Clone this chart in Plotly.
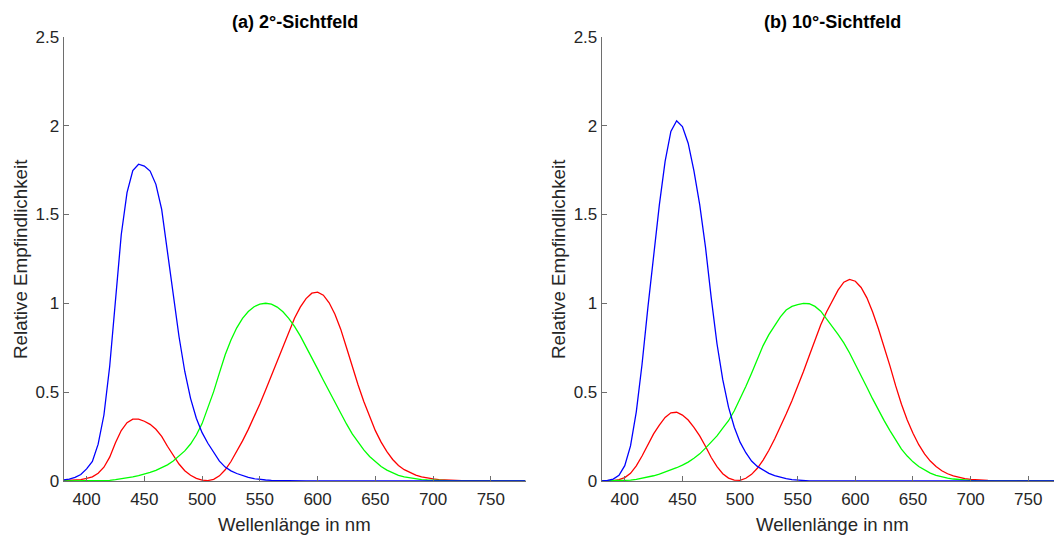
import plotly.graph_objects as go

W, H = 1054, 536

wl = list(range(380, 785, 5))

x2 = [0.001368, 0.002236, 0.004243, 0.007650, 0.014310, 0.023190, 0.043510, 0.077630, 0.134380, 0.214770,
      0.283900, 0.328500, 0.348280, 0.348060, 0.336200, 0.318700, 0.290800, 0.251100, 0.195360, 0.142100,
      0.095640, 0.057950, 0.032010, 0.014700, 0.004900, 0.002400, 0.009300, 0.029100, 0.063270, 0.109600,
      0.165500, 0.225750, 0.290400, 0.359700, 0.433450, 0.512050, 0.594500, 0.678400, 0.762100, 0.842500,
      0.916300, 0.978600, 1.026300, 1.056700, 1.062200, 1.045600, 1.002600, 0.938400, 0.854450, 0.751400,
      0.642400, 0.541900, 0.447900, 0.360800, 0.283500, 0.218700, 0.164900, 0.121200, 0.087400, 0.063600,
      0.046770, 0.032900, 0.022700, 0.015840, 0.011359, 0.008111, 0.005790, 0.004109, 0.002899, 0.002049,
      0.001440, 0.001000, 0.000690, 0.000476, 0.000332, 0.000235, 0.000166, 0.000117, 0.000083, 0.000059,
      0.000042]
y2 = [0.000039, 0.000064, 0.000120, 0.000217, 0.000396, 0.000640, 0.001210, 0.002180, 0.004000, 0.007300,
      0.011600, 0.016840, 0.023000, 0.029800, 0.038000, 0.048000, 0.060000, 0.073900, 0.090980, 0.112600,
      0.139020, 0.169300, 0.208020, 0.258600, 0.323000, 0.407300, 0.503000, 0.608200, 0.710000, 0.793200,
      0.862000, 0.914850, 0.954000, 0.980300, 0.994950, 1.000000, 0.995000, 0.978600, 0.952000, 0.915400,
      0.870000, 0.816300, 0.757000, 0.694900, 0.631000, 0.566800, 0.503000, 0.441200, 0.381000, 0.321000,
      0.265000, 0.217000, 0.175000, 0.138200, 0.107000, 0.081600, 0.061000, 0.044580, 0.032000, 0.023200,
      0.017000, 0.011920, 0.008210, 0.005723, 0.004102, 0.002929, 0.002091, 0.001484, 0.001047, 0.000740,
      0.000520, 0.000361, 0.000249, 0.000172, 0.000120, 0.000085, 0.000060, 0.000042, 0.000030, 0.000021,
      0.000015]
z2 = [0.006450, 0.010550, 0.020050, 0.036210, 0.067850, 0.110200, 0.207400, 0.371300, 0.645600, 1.039050,
      1.385600, 1.622960, 1.747060, 1.782600, 1.772110, 1.744100, 1.669200, 1.528100, 1.287640, 1.041900,
      0.812950, 0.616200, 0.465180, 0.353300, 0.272000, 0.212300, 0.158200, 0.111700, 0.078250, 0.057250,
      0.042160, 0.029840, 0.020300, 0.013400, 0.008750, 0.005750, 0.003900, 0.002750, 0.002100, 0.001800,
      0.001650, 0.001400, 0.001100, 0.001000, 0.000800, 0.000600, 0.000340, 0.000240, 0.000190, 0.000100,
      0.000050, 0.000030, 0.000020, 0.000010, 0, 0, 0, 0, 0, 0,
      0, 0, 0, 0, 0, 0, 0, 0, 0, 0,
      0, 0, 0, 0, 0, 0, 0, 0, 0, 0,
      0]

x10 = [0.000160, 0.000662, 0.002362, 0.007242, 0.019110, 0.043400, 0.084736, 0.140638, 0.204492, 0.264737,
       0.314679, 0.357719, 0.383734, 0.386726, 0.370702, 0.342957, 0.302273, 0.254085, 0.195618, 0.132349,
       0.080507, 0.041072, 0.016172, 0.005132, 0.003816, 0.015444, 0.037465, 0.071358, 0.117749, 0.172953,
       0.236491, 0.304213, 0.376772, 0.451584, 0.529826, 0.616053, 0.705224, 0.793832, 0.878655, 0.951162,
       1.014160, 1.074300, 1.118520, 1.134300, 1.123990, 1.089100, 1.030480, 0.950740, 0.856297, 0.754930,
       0.647467, 0.535110, 0.431567, 0.343690, 0.268329, 0.204300, 0.152568, 0.112210, 0.081261, 0.057930,
       0.040851, 0.028623, 0.019941, 0.013842, 0.009577, 0.006605, 0.004553, 0.003145, 0.002175, 0.001506,
       0.001045, 0.000727, 0.000508, 0.000356, 0.000251, 0.000178, 0.000126, 0.000090, 0.000065, 0.000046,
       0.000033]
y10 = [0.000017, 0.000072, 0.000253, 0.000769, 0.002004, 0.004509, 0.008756, 0.014456, 0.021391, 0.029497,
       0.038676, 0.049602, 0.062077, 0.074704, 0.089456, 0.106256, 0.128201, 0.152761, 0.185190, 0.219940,
       0.253589, 0.297665, 0.339133, 0.395379, 0.460777, 0.531360, 0.606741, 0.685660, 0.761757, 0.823330,
       0.875211, 0.923810, 0.961988, 0.982200, 0.991761, 0.999110, 0.997340, 0.982380, 0.955552, 0.915175,
       0.868934, 0.825623, 0.777405, 0.720353, 0.658341, 0.593878, 0.527963, 0.461834, 0.398057, 0.339554,
       0.283493, 0.228254, 0.179828, 0.140211, 0.107633, 0.081187, 0.060281, 0.044096, 0.031800, 0.022602,
       0.015905, 0.011130, 0.007749, 0.005375, 0.003718, 0.002565, 0.001768, 0.001222, 0.000846, 0.000586,
       0.000407, 0.000284, 0.000199, 0.000140, 0.000098, 0.000070, 0.000050, 0.000036, 0.000025, 0.000018,
       0.000013]
z10 = [0.000705, 0.002928, 0.010482, 0.032344, 0.086011, 0.197120, 0.389366, 0.656760, 0.972542, 1.282500,
       1.553480, 1.798500, 1.967280, 2.027300, 1.994800, 1.900700, 1.745370, 1.554900, 1.317560, 1.030200,
       0.772125, 0.570060, 0.415254, 0.302356, 0.218502, 0.159249, 0.112044, 0.082248, 0.060709, 0.043050,
       0.030451, 0.020584, 0.013676, 0.007918, 0.003988, 0.001091, 0, 0, 0, 0,
       0, 0, 0, 0, 0, 0, 0, 0, 0, 0,
       0, 0, 0, 0, 0, 0, 0, 0, 0, 0,
       0, 0, 0, 0, 0, 0, 0, 0, 0, 0,
       0, 0, 0, 0, 0, 0, 0, 0, 0, 0,
       0]

titles = ["(a) 2°-Sichtfeld", "(b) 10°-Sichtfeld"]
xlabel = "Wellenlänge in nm"
ylabel = "Relative Empfindlichkeit"
xticks = [400, 450, 500, 550, 600, 650, 700, 750]
yticks = [0, 0.5, 1, 1.5, 2, 2.5]
yticklabels = ["0", "0.5", "1", "1.5", "2", "2.5"]

FONT = "Liberation Sans, Arial, sans-serif"
TXT = "#262626"
AX = "#6e6e6e"
LW = 1.3

fig = go.Figure()

for ax, (xs, ys, zs) in zip(["", "2"], [(x2, y2, z2), (x10, y10, z10)]):
    for data, col in [(xs, "#ff0000"), (ys, "#00ff00"), (zs, "#0000ff")]:
        fig.add_trace(go.Scatter(x=wl, y=data, mode="lines",
                                 line=dict(color=col, width=LW),
                                 xaxis="x" + ax, yaxis="y" + ax,
                                 showlegend=False, hoverinfo="skip"))

def px(x):
    return x / W

def py(y):
    return 1 - y / H

ydom = [py(481), py(36.7)]
xax_common = dict(tickmode="array", tickvals=xticks, ticks="inside", ticklen=5,
                  tickcolor=AX, showline=True, linecolor=AX, linewidth=1,
                  showgrid=False, zeroline=False, ticklabelstandoff=3,
                  tickfont=dict(family=FONT, size=17, color=TXT))
yax_common = dict(tickmode="array", tickvals=yticks, ticktext=yticklabels,
                  ticks="inside", ticklen=5, tickcolor=AX, showline=True,
                  linecolor=AX, linewidth=1, showgrid=False, zeroline=False,
                  range=[0, 2.5], domain=ydom,
                  tickfont=dict(family=FONT, size=17, color=TXT))

fig.update_layout(
    width=W, height=H,
    margin=dict(l=0, r=0, t=0, b=0, autoexpand=False),
    paper_bgcolor="white", plot_bgcolor="white",
    xaxis=dict(domain=[px(63.5), px(525.5)], range=[380, 780], anchor="y", **xax_common),
    yaxis=dict(anchor="x", **yax_common),
    xaxis2=dict(domain=[px(601.7), 1.0], range=[380, 772.3], anchor="y2", **xax_common),
    yaxis2=dict(anchor="x2", **yax_common),
)

ann = []
for cx, yl_x, t in [(294.5, 21, titles[0]), (832.5, 559, titles[1])]:
    ann.append(dict(text="<b>%s</b>" % t, x=px(cx), y=py(22), xref="paper", yref="paper",
                    xanchor="center", yanchor="middle", showarrow=False,
                    font=dict(family=FONT, size=18, color="black")))
    ann.append(dict(text=xlabel, x=px(cx), y=py(524), xref="paper", yref="paper",
                    xanchor="center", yanchor="middle", showarrow=False,
                    font=dict(family=FONT, size=18.6, color=TXT)))
    ann.append(dict(text=ylabel, x=px(yl_x), y=py(259), xref="paper", yref="paper",
                    xanchor="center", yanchor="middle", showarrow=False, textangle=-90,
                    font=dict(family=FONT, size=18.8, color=TXT)))
fig.update_layout(annotations=ann)

fig.write_html("out.html")
